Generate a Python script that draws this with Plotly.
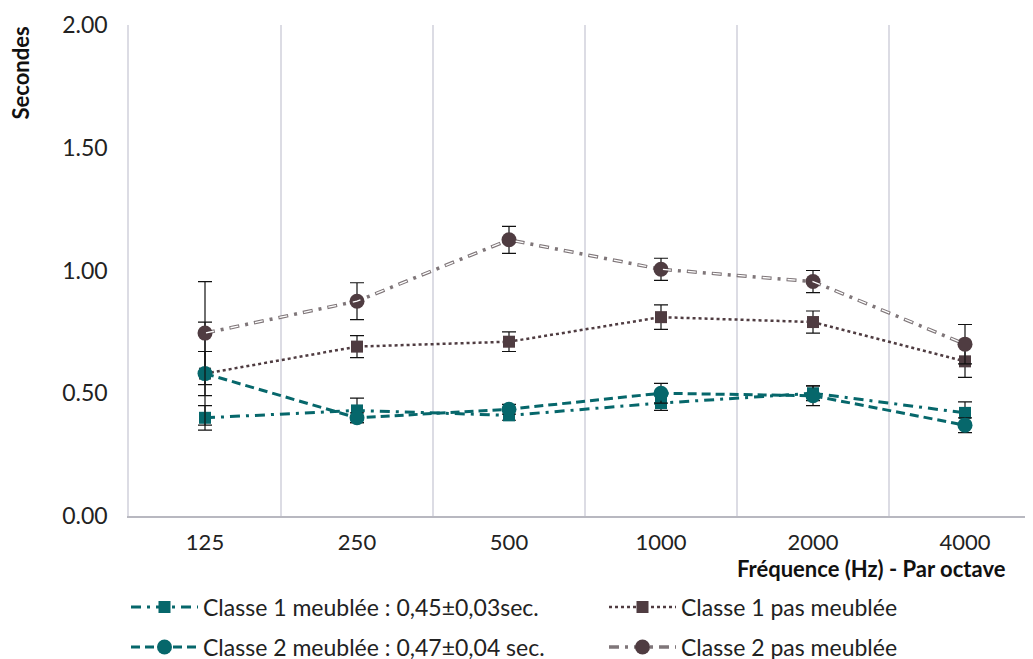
import plotly.graph_objects as go

freqs = ["125", "250", "500", "1000", "2000", "4000"]
c1_meublee = [0.40, 0.43, 0.41, 0.46, 0.50, 0.42]
c1_meublee_err = [0.05, 0.05, 0.02, 0.03, 0.03, 0.045]
c2_meublee = [0.58, 0.40, 0.435, 0.50, 0.49, 0.37]
c2_meublee_err = [0.21, 0.02, 0.02, 0.04, 0.04, 0.03]
c1_pas = [0.58, 0.69, 0.71, 0.81, 0.79, 0.63]
c1_pas_err = [0.09, 0.045, 0.04, 0.05, 0.045, 0.065]
c2_pas = [0.745, 0.875, 1.125, 1.005, 0.955, 0.70]
c2_pas_err = [0.21, 0.075, 0.055, 0.045, 0.045, 0.08]

names = ["Classe 1 meublée : 0,45±0,03sec.", "Classe 1 pas meublée",
         "Classe 2 meublée : 0,47±0,04 sec.", "Classe 2 pas meublée"]
y_ticks = [0, 0.5, 1.0, 1.5, 2.0]

TEAL = "#06676b"
BROWN = "#4f3c41"
FONT = "Lato"
W, H = 1033, 659
ML, MT, PB = 121, 17, 508          # plot left, top, bottom in figure px
PW, PH = W - ML, PB - MT
xs = list(range(len(freqs)))

def err(a):
    return dict(type="data", array=a, visible=True, color="#111111", thickness=1.2, width=7)

fig = go.Figure()
fig.add_trace(go.Scatter(x=xs, y=c1_meublee, name=names[0], mode="lines+markers",
                         line=dict(color=TEAL, width=3, dash="10px,6px,3px,6px"),
                         marker=dict(symbol="square", size=12, color=TEAL),
                         error_y=err(c1_meublee_err), legend="legend"))
fig.add_trace(go.Scatter(x=xs, y=c1_pas, name=names[1], mode="lines+markers",
                         line=dict(color=BROWN, width=2.5, dash="dot"),
                         marker=dict(symbol="square", size=12, color=BROWN),
                         error_y=err(c1_pas_err), legend="legend2"))
fig.add_trace(go.Scatter(x=xs, y=c2_meublee, name=names[2], mode="lines+markers",
                         line=dict(color=TEAL, width=3, dash="9px,5px"),
                         marker=dict(symbol="circle", size=15, color=TEAL),
                         error_y=err(c2_meublee_err), legend="legend3"))
fig.add_trace(go.Scatter(x=xs, y=c2_pas, name=names[3], mode="lines+markers",
                         line=dict(color="#7f7679", width=3.5, dash="10px,6px,3px,6px"),
                         marker=dict(symbol="circle", size=15, color=BROWN),
                         error_y=err(c2_pas_err), legend="legend4"))
fig.add_trace(go.Scatter(x=xs, y=c2_pas, mode="lines", showlegend=False, hoverinfo="skip",
                         line=dict(color="white", width=1.3, dash="0px,1px,8px,16px")))

def leg(px, py):
    return dict(orientation="h", xref="container", yref="container",
                x=px / W, xanchor="left", y=1 - py / H, yanchor="middle",
                itemwidth=67, font=dict(family=FONT, size=23, color="#222222"),
                bgcolor="rgba(0,0,0,0)", borderwidth=0)

fig.update_layout(
    width=W, height=H,
    margin=dict(l=ML, r=0, t=MT, b=H - PB, autoexpand=False),
    paper_bgcolor="white", plot_bgcolor="white",
    font=dict(family=FONT, size=22, color="#222222"),
    showlegend=True,
    legend=leg(118, 599),
    legend2=leg(596, 599),
    legend3=leg(118, 639),
    legend4=leg(596, 639),
)

fig.update_xaxes(range=[-0.5, 5.5], tickvals=xs, ticktext=freqs, showgrid=False,
                 showline=True, linecolor="#b8b8c0", linewidth=1.5, zeroline=False,
                 ticks="", ticklabelstandoff=6,
                 tickfont=dict(family=FONT, size=22, color="#222222"),
                 minor=dict(tickvals=[0.5, 1.5, 2.5, 3.5, 4.5], showgrid=True,
                            gridcolor="#dcdce4", gridwidth=1.8, ticks=""))
fig.update_yaxes(range=[0, 2.0], tickvals=y_ticks, tickformat=".2f", showgrid=False,
                 showline=True, linecolor="#dcdce4", linewidth=1.5, zeroline=False,
                 ticks="", ticklabelstandoff=15,
                 tickfont=dict(family=FONT, size=23, color="#222222"))

fig.add_annotation(text="<b>Fréquence (Hz) - Par octave</b>", xref="paper", yref="paper",
                   x=(1000 - ML) / PW, y=(PB - 560) / PH, xanchor="right", yanchor="middle",
                   showarrow=False, font=dict(family=FONT, size=22, color="#111111"))
fig.add_annotation(text="<b>Secondes</b>", xref="paper", yref="paper",
                   x=(12 - ML) / PW, y=1.0, xanchor="center", yanchor="top", textangle=-90,
                   showarrow=False, font=dict(family=FONT, size=22, color="#111111"))

fig.write_html("out.html")
